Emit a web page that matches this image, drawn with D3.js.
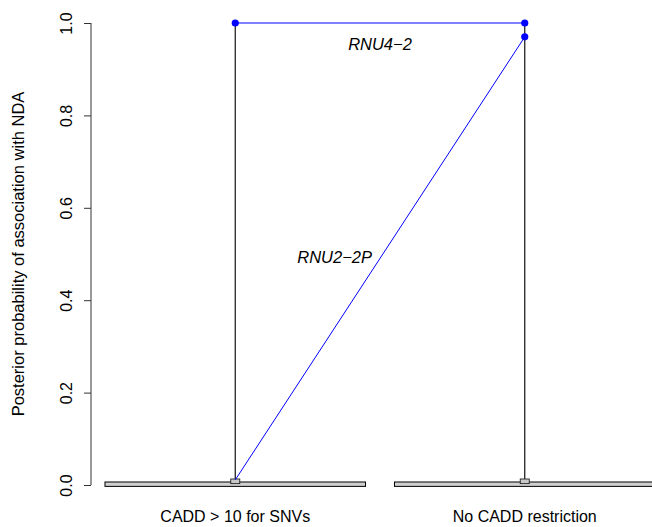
<!DOCTYPE html>
<html>
<head>
<meta charset="utf-8">
<script src="https://cdn.jsdelivr.net/npm/d3@7"></script>
<style>
  body { margin: 0; background: #fff; }
  svg { display: block; font-family: "Liberation Sans", Arial, sans-serif; }
</style>
</head>
<body>
<script>
// categories and per-category distribution summaries
const categories = ['CADD > 10 for SNVs', 'No CADD restriction'];
const violinLow = [-0.003, -0.003];
const violinHigh = [0.0065, 0.0065];
const violinHalfWidth = [0.45, 0.45];
const boxLow = [0.003, 0.003];
const boxHigh = [0.013, 0.013];
const whiskerHigh = [1.0, 1.0];

// highlighted genes, one value per category
const genes = ['RNU4\u22122', 'RNU2\u22122P'];
const geneValues = [
    [1.0, 1.0],
    [0.011, 0.97]
];
const yTicks = [0, 0.2, 0.4, 0.6, 0.8, 1.0];

const width = 652;
const height = 527;

const svg = d3.select('body').append('svg')
    .attr('width', width)
    .attr('height', height);

const x = d3.scaleLinear().domain([0.5, 2.5]).range([90.5, 669.5]);
const y = d3.scaleLinear().domain([0, 1]).range([485, 23]);
const pxPerUnit = x(1) - x(0);

// violins (squashed flat near zero)
svg.append('g')
    .selectAll('rect')
    .data(categories)
    .join('rect')
        .attr('x', (d, i) => x(i + 1) - violinHalfWidth[i] * pxPerUnit)
        .attr('y', (d, i) => y(violinHigh[i]))
        .attr('width', (d, i) => 2 * violinHalfWidth[i] * pxPerUnit)
        .attr('height', (d, i) => y(violinLow[i]) - y(violinHigh[i]))
        .attr('fill', '#cfcfcf')
        .attr('stroke', '#000')
        .attr('stroke-width', 1);

// whiskers
svg.append('g')
    .selectAll('line')
    .data(categories)
    .join('line')
        .attr('x1', (d, i) => x(i + 1))
        .attr('x2', (d, i) => x(i + 1))
        .attr('y1', (d, i) => y(boxHigh[i]))
        .attr('y2', (d, i) => y(whiskerHigh[i]))
        .attr('stroke', '#111')
        .attr('stroke-width', 1.2);

// inner boxes
svg.append('g')
    .selectAll('rect')
    .data(categories)
    .join('rect')
        .attr('x', (d, i) => x(i + 1) - 4.5)
        .attr('y', (d, i) => y(boxHigh[i]))
        .attr('width', 9)
        .attr('height', (d, i) => y(boxLow[i]) - y(boxHigh[i]))
        .attr('fill', '#c8c8c8')
        .attr('stroke', '#222')
        .attr('stroke-width', 0.9);

// gene lines, points and labels
const line = d3.line()
    .x((d, i) => x(i + 1))
    .y(d => y(d));

const geneG = svg.append('g');
geneG.selectAll('path')
    .data(geneValues)
    .join('path')
        .attr('d', d => line(d))
        .attr('fill', 'none')
        .attr('stroke', '#0000ff')
        .attr('stroke-width', 1);

const dots = [];
geneValues.forEach(vals => vals.forEach((v, i) => {
    if (v > 0.5) dots.push({i: i, v: v});
}));
geneG.selectAll('circle')
    .data(dots)
    .join('circle')
        .attr('cx', d => x(d.i + 1))
        .attr('cy', d => y(d.v))
        .attr('r', 3.6)
        .attr('fill', '#0000ff');

// RNU4-2 label below its line, RNU2-2P left of its midpoint
geneG.selectAll('text')
    .data(genes)
    .join('text')
        .attr('x', (d, k) => {
            const mx = (x(1) + x(2)) / 2;
            return k === 0 ? mx : mx - 8;
        })
        .attr('y', (d, k) => {
            const my = (y(geneValues[k][0]) + y(geneValues[k][1])) / 2;
            return k === 0 ? my + 27 : my + 5;
        })
        .attr('text-anchor', (d, k) => k === 0 ? 'middle' : 'end')
        .attr('font-style', 'italic')
        .attr('font-size', 16.5)
        .text(d => d);

// y axis
svg.append('g')
    .attr('transform', 'translate(91, 0)')
    .call(d3.axisLeft(y).tickValues(yTicks).tickFormat(d3.format('.1f')).tickSize(7).tickPadding(0))
    .call(g => g.select('.domain').attr('d', `M0,${y(0)}V${y(1)}`).attr('stroke', '#333'))
    .call(g => g.selectAll('.tick line').attr('stroke', '#333'))
    .call(g => g.selectAll('.tick text')
        .attr('font-size', 16)
        .attr('font-family', '"Liberation Sans", Arial, sans-serif')
        .attr('fill', '#000')
        .attr('text-anchor', 'middle')
        .attr('transform', 'rotate(-90)')
        .attr('x', 0)
        .attr('y', -19)
        .attr('dy', 0));

// x labels
svg.append('g')
    .selectAll('text')
    .data(categories)
    .join('text')
        .attr('x', (d, i) => x(i + 1))
        .attr('y', 522)
        .attr('text-anchor', 'middle')
        .attr('font-size', 16)
        .text(d => d);

// y title
svg.append('text')
    .attr('transform', `translate(24, ${(y(0) + y(1)) / 2}) rotate(-90)`)
    .attr('text-anchor', 'middle')
    .attr('font-size', 16.5)
    .text('Posterior probability of association with NDA');
</script>
</body>
</html>
